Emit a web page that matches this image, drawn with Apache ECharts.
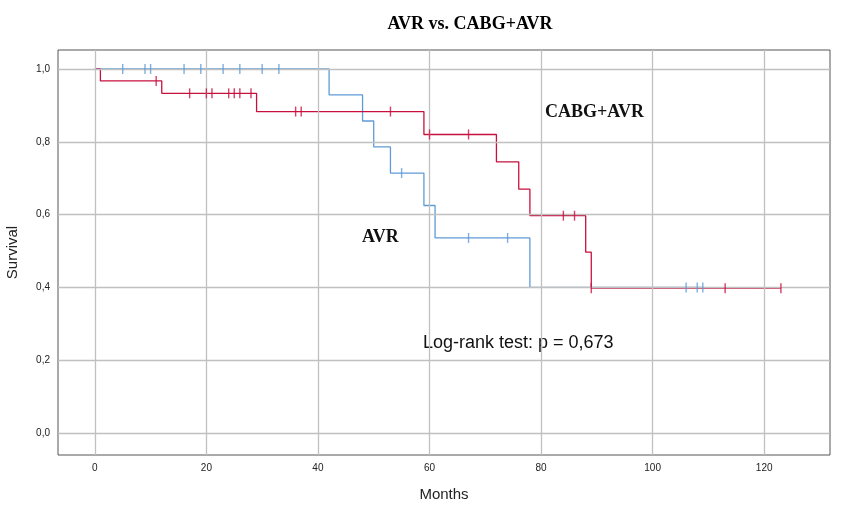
<!DOCTYPE html><html><head><meta charset="utf-8"><script src="https://cdn.jsdelivr.net/npm/echarts@6/dist/echarts.min.js"></script></head><body style="margin:0"><div id="c" style="width:848px;height:510px"></div><script>
const avrSteps=[[0,1],[42,0.929],[48,0.857],[50,0.786],[53,0.714],[59,0.625],[61,0.536],[78,0.40],[109,0.40]];
const avrCensor=[[5,1],[9,1],[10,1],[16,1],[19,1],[23,1],[26,1],[30,1],[33,1],[55,0.714],[67,0.536],[74,0.536],[106,0.40],[108,0.40],[109,0.40]];
const cabgSteps=[[0,1],[1,0.967],[12,0.933],[29,0.883],[59,0.82],[72,0.745],[76,0.67],[78,0.597],[88,0.497],[89,0.398],[123,0.398]];
const cabgCensor=[[11,0.967],[17,0.933],[20,0.933],[21,0.933],[24,0.933],[25,0.933],[26,0.933],[28,0.933],[36,0.883],[37,0.883],[53,0.883],[60,0.82],[67,0.82],[84,0.597],[86,0.597],[89,0.398],[113,0.398],[123,0.398]];
const xTicks=[0,20,40,60,80,100,120];
const yTicks=[0,0.2,0.4,0.6,0.8,1.0];
const blue='#5f9bd6',red='#c8103e';
const gl={color:'#c0c0c0',width:1.3,type:'solid'};
const vLines={silent:true,symbol:'none',label:{show:false},lineStyle:gl,data:xTicks.map(v=>({xAxis:v})).concat(yTicks.map(v=>({yAxis:v})))};
const ch=echarts.init(document.getElementById('c'));
ch.setOption({
 animation:false,
 title:{text:'AVR vs. CABG+AVR',left:465,top:10,textAlign:'center',textStyle:{fontFamily:'Liberation Serif',fontSize:18,fontWeight:'bold',color:'#000'}},
 grid:{left:58,right:18,top:50,bottom:55,outerBoundsMode:'none',show:true,borderColor:'#555',borderWidth:1},
 xAxis:{type:'value',min:-6.6,max:131.8,name:'Months',nameLocation:'middle',nameGap:32,nameTextStyle:{fontFamily:'Liberation Sans',fontSize:15,color:'#222'},
  axisLine:{show:false},splitLine:{show:false},
  axisTick:{show:true,customValues:xTicks,length:4,lineStyle:{color:'#555'}},
  axisLabel:{customValues:xTicks,color:'#222',fontSize:10,fontFamily:'Liberation Sans'}},
 yAxis:{type:'value',min:-0.06,max:1.052,name:'Survival',nameLocation:'middle',nameGap:38,nameTextStyle:{fontFamily:'Liberation Sans',fontSize:15,color:'#222'},
  axisLine:{show:false},splitLine:{show:false},
  axisTick:{show:true,customValues:yTicks,length:4,lineStyle:{color:'#555'}},
  axisLabel:{customValues:yTicks,color:'#222',fontSize:10,fontFamily:'Liberation Sans',formatter:v=>v.toFixed(1).replace('.',',')}},
 graphic:[
  {type:'text',left:545,top:103,style:{text:'CABG+AVR',font:'bold 18px "Liberation Serif"',fill:'#111'}},
  {type:'text',left:362,top:228,style:{text:'AVR',font:'bold 18px "Liberation Serif"',fill:'#111'}},
  {type:'text',left:423,top:334,style:{text:'Log-rank test: p = 0,673',font:'18px "Liberation Sans"',fill:'#111'}}
 ],
 series:[
  {type:'line',data:[],markLine:vLines,silent:true},
  {type:'line',step:'end',data:avrSteps,showSymbol:false,lineStyle:{color:blue,width:1.3},z:3},
  {type:'line',step:'end',data:cabgSteps,showSymbol:false,lineStyle:{color:red,width:1.3},z:4},
  {type:'scatter',data:avrCensor,symbol:'rect',symbolSize:[1.4,10],itemStyle:{color:blue},z:5},
  {type:'scatter',data:cabgCensor,symbol:'rect',symbolSize:[1.4,10],itemStyle:{color:red},z:6}
 ]
});
</script></body></html>
